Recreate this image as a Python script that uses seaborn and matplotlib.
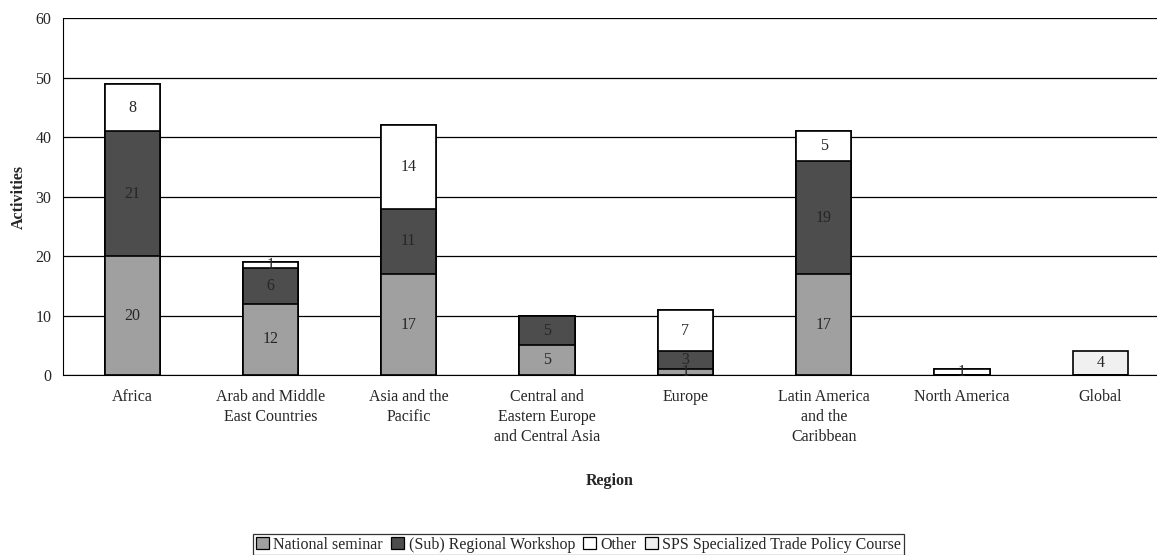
import numpy as np
import pandas as pd
import matplotlib.pyplot as plt
import seaborn as sns
from matplotlib.patches import Patch

# data
regions = ['Africa', 'Arab and Middle\nEast Countries', 'Asia and the\nPacific',
           'Central and\nEastern Europe\nand Central Asia', 'Europe',
           'Latin America\nand the\nCaribbean', 'North America', 'Global']
national = [20, 12, 17, 5, 1, 17, 0, 0]
regional = [21, 6, 11, 5, 3, 19, 0, 0]
other = [8, 1, 14, 0, 7, 5, 1, 0]
sps = [0, 0, 0, 0, 0, 0, 0, 4]

series_names = ['National seminar', '(Sub) Regional Workshop', 'Other',
                'SPS Specialized Trade Policy Course']
series_colors = ['#a0a0a0', '#4d4d4d', '#ffffff', '#f0f0f0']

sns.set_style('white')
plt.rcParams['font.family'] = ['Liberation Serif', 'DejaVu Serif']

df = pd.DataFrame({'region': regions, 'national': national, 'regional': regional,
                   'other': other, 'sps': sps})
layers = ['national', 'regional', 'other', 'sps']
cum = df[layers].cumsum(axis=1)

fig = plt.figure(figsize=(11.57, 5.55), dpi=100)
ax = fig.add_axes([0.0545, 0.324, 0.9455, 0.643])

# draw cumulative totals from the top layer down so segments stack
for layer, col in zip(reversed(layers), reversed(series_colors)):
    sns.barplot(data=df, x='region', y=cum[layer], order=regions, color=col,
                saturation=1, edgecolor='black', linewidth=1.2, width=0.4, ax=ax)

# segment labels
for i in range(len(regions)):
    base = 0
    for layer in layers:
        v = df[layer].iloc[i]
        if v > 0:
            ax.text(i, base + v / 2, str(v), ha='center', va='center', fontsize=11.5)
        base += v

ax.set_ylim(0, 60)
ax.set_yticks(range(0, 61, 10))
ax.set_xlim(-0.5, 7.41)
ax.yaxis.grid(True, color='black', linewidth=0.9)
ax.set_axisbelow(True)
for s in ['top', 'right']:
    ax.spines[s].set_visible(False)
ax.spines['left'].set_color('black')
ax.spines['bottom'].set_color('black')

ax.tick_params(axis='y', direction='out', length=5, width=0.9, color='black', labelsize=11.5)
ax.set_xticks(np.arange(len(regions)))
ax.set_xticklabels(regions, fontsize=11.5, linespacing=1.33, va='top')
ax.tick_params(axis='x', which='major', length=0, pad=10)
ax.set_xticks(np.arange(0.5, len(regions) - 1, 1), minor=True)
ax.tick_params(axis='x', which='minor', direction='out', length=5, width=0.9, color='black')

ax.set_ylabel('Activities', fontsize=11.5, fontweight='bold', labelpad=6)
ax.set_xlabel('Region', fontsize=11.5, fontweight='bold', labelpad=20)

handles = [Patch(facecolor=c, edgecolor='black', linewidth=0.9) for c in series_colors]
leg = fig.legend(handles, series_names, loc='lower center', bbox_to_anchor=(0.5, 0.0),
                 ncol=4, fontsize=11.5, frameon=True, fancybox=False, edgecolor='black',
                 handlelength=0.8, handleheight=0.8, handletextpad=0.3,
                 columnspacing=0.5, borderpad=0.15, borderaxespad=0.0)
leg.get_frame().set_linewidth(0.9)

fig.savefig('out.png', dpi=100)
